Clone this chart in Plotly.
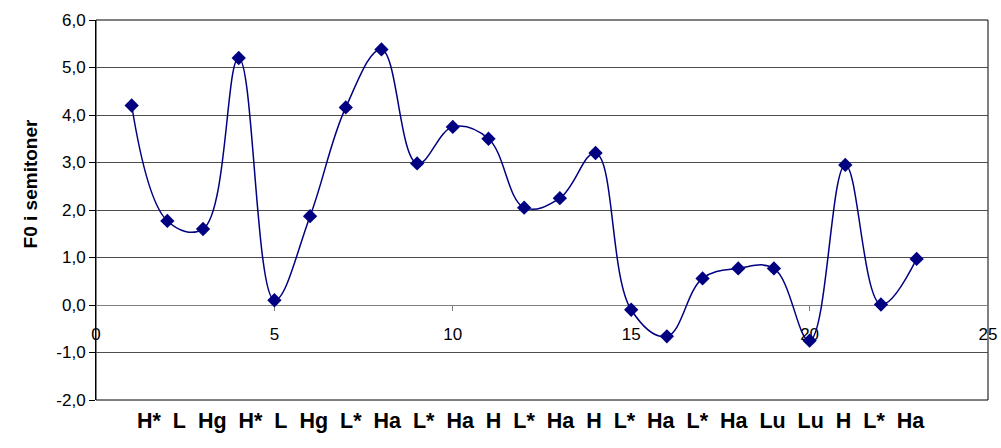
import plotly.graph_objects as go

x_vals = list(range(1, 24))
f0_values = [4.2, 1.77, 1.6, 5.2, 0.1, 1.87, 4.16, 5.38, 2.98, 3.75, 3.5, 2.05,
             2.25, 3.2, -0.1, -0.66, 0.56, 0.77, 0.77, -0.75, 2.95, 0.01, 0.97]
tone_labels = ["H*", "L", "Hg", "H*", "L", "Hg", "L*", "Ha", "L*", "Ha", "H", "L*",
               "Ha", "H", "L*", "Ha", "L*", "Ha", "Lu", "Lu", "H", "L*", "Ha"]
y_tick_vals = [-2, -1, 0, 1, 2, 3, 4, 5, 6]
y_tick_text = ["-2,0", "-1,0", "0,0", "1,0", "2,0", "3,0", "4,0", "5,0", "6,0"]
x_tick_vals = [0, 5, 10, 15, 20, 25]
y_title = "F0 i semitoner"

NAVY = "#000080"
FONT = "Arial, Liberation Sans, sans-serif"

fig = go.Figure()
fig.add_trace(go.Scatter(
    x=x_vals, y=f0_values, mode="lines+markers",
    line=dict(color=NAVY, width=1.5, shape="spline", smoothing=1.1),
    marker=dict(symbol="diamond", size=11, color=NAVY),
    showlegend=False, hoverinfo="x+y",
))

fig.update_layout(
    width=1001, height=448,
    margin=dict(l=96, r=13, t=20, b=48, autoexpand=False),
    paper_bgcolor="white", plot_bgcolor="white",
    font=dict(family=FONT, size=17, color="black"),
    xaxis=dict(
        range=[0, 25], tickvals=x_tick_vals, ticktext=[str(v) for v in x_tick_vals],
        showgrid=False, zeroline=False,
        anchor="free", position=0.25,
        showline=True, linecolor="#808080", linewidth=1,
        ticks="outside", ticklen=5, tickcolor="#808080",
        ticklabelstandoff=9, layer="below traces",
        tickfont=dict(size=17),
    ),
    yaxis=dict(
        range=[-2, 6], tickvals=y_tick_vals, ticktext=y_tick_text,
        showgrid=True, gridcolor="#4d4d4d", gridwidth=1,
        zeroline=True, zerolinecolor="#808080", zerolinewidth=1,
        showline=True, linecolor="black", linewidth=1,
        ticks="outside", ticklen=6, tickcolor="black",
        tickfont=dict(size=17),
    ),
)

# plot frame
fig.add_shape(type="rect", xref="x domain", yref="y domain", x0=0, x1=1, y0=0, y1=1,
              line=dict(color="black", width=1), layer="below")

# y title
fig.add_annotation(text="<b>" + y_title + "</b>", xref="paper", yref="paper",
                   x=-0.074, y=0.57, xanchor="center", yanchor="middle",
                   textangle=-90, showarrow=False,
                   font=dict(size=19, family=FONT))

# tone label row
sep = "\u00a0\u00a0"
fig.add_annotation(text="<b>" + sep.join(tone_labels) + "</b>", xref="paper", yref="paper",
                   x=0.488, y=-0.093, showarrow=False, font=dict(size=21.5, family=FONT))

fig.write_html("out.html", config={"displayModeBar": False},
               post_script="document.body.style.margin='0';")
